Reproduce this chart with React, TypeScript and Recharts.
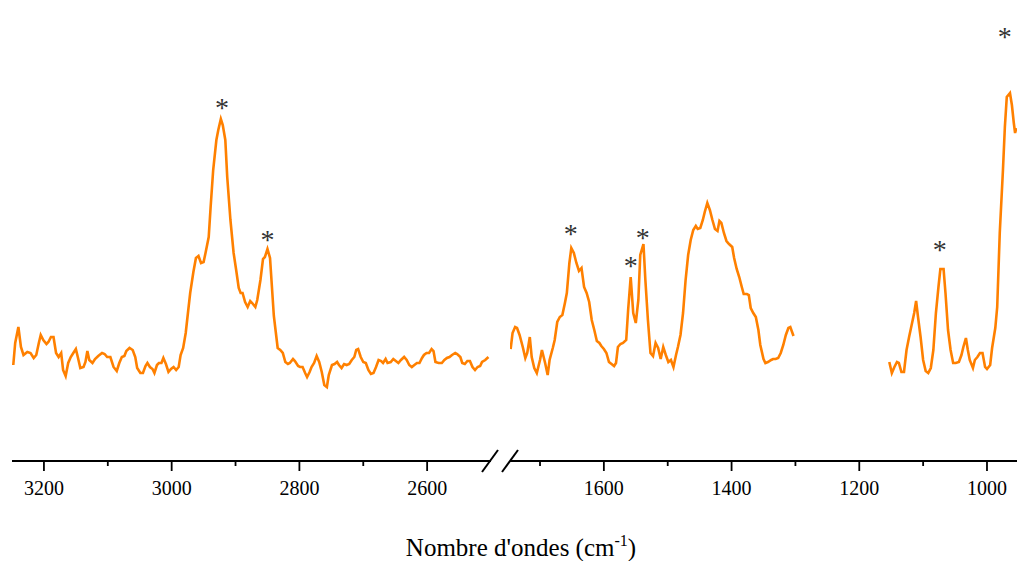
import { LineChart, Line, XAxis, YAxis, ReferenceDot } from "recharts";

// FTIR spectrum, broken wavenumber axis (cm-1), arbitrary absorbance
const highRange: [number, number][] = [
  [3248, 0.96], [3245, 1.18], [3240, 1.34], [3236, 1.14], [3232, 1.06], [3226, 1.09],
  [3221, 1.08], [3216, 1.03], [3212, 1.06], [3208, 1.18], [3205, 1.26], [3201, 1.21],
  [3196, 1.17], [3193, 1.19], [3189, 1.24], [3185, 1.24], [3181, 1.08], [3177, 1.04],
  [3173, 1.08], [3170, 0.91], [3166, 0.85], [3162, 0.98], [3158, 1.04], [3154, 1.08],
  [3150, 1.12], [3147, 1.04], [3143, 0.93], [3138, 0.94], [3135, 0.99], [3132, 1.1],
  [3129, 1.01], [3124, 0.98], [3120, 1.02], [3115, 1.05], [3109, 1.08], [3105, 1.07],
  [3101, 1.04], [3096, 1.04], [3091, 0.94], [3086, 0.9], [3082, 0.98], [3078, 1.04],
  [3074, 1.05], [3071, 1.1], [3066, 1.13], [3061, 1.11], [3057, 1.04], [3054, 0.93],
  [3049, 0.88], [3045, 0.88], [3041, 0.95], [3038, 0.98], [3034, 0.94], [3030, 0.92],
  [3027, 0.88], [3023, 0.96], [3020, 0.98], [3016, 0.98], [3013, 1.03], [3009, 0.97],
  [3005, 0.89], [3001, 0.92], [2997, 0.94], [2993, 0.91], [2989, 0.94], [2986, 1.06],
  [2982, 1.13], [2978, 1.28], [2974, 1.51], [2971, 1.68], [2966, 1.89], [2962, 2.03],
  [2958, 2.05], [2954, 1.98], [2950, 1.99], [2947, 2.08], [2942, 2.24], [2939, 2.54],
  [2935, 2.91], [2930, 3.21], [2927, 3.31], [2923, 3.42], [2920, 3.36], [2916, 3.21],
  [2913, 2.84], [2908, 2.41], [2903, 2.08], [2899, 1.91], [2895, 1.73], [2892, 1.68],
  [2889, 1.68], [2885, 1.59], [2881, 1.54], [2877, 1.6], [2874, 1.58], [2869, 1.54],
  [2866, 1.61], [2861, 1.81], [2857, 2.02], [2854, 2.04], [2850, 2.12], [2846, 2.03],
  [2843, 1.74], [2840, 1.45], [2837, 1.29], [2834, 1.13], [2830, 1.11], [2826, 1.08],
  [2822, 0.99], [2818, 0.97], [2815, 0.98], [2810, 1.02], [2807, 1.0], [2802, 0.95],
  [2799, 0.94], [2795, 0.94], [2791, 0.88], [2788, 0.84], [2784, 0.89], [2781, 0.94],
  [2777, 0.98], [2773, 1.05], [2769, 0.99], [2765, 0.89], [2761, 0.76], [2757, 0.74],
  [2754, 0.86], [2749, 0.96], [2745, 0.97], [2741, 0.99], [2738, 0.96], [2734, 0.93],
  [2730, 0.97], [2726, 0.96], [2722, 0.97], [2718, 1.01], [2714, 1.04], [2711, 1.11],
  [2708, 1.12], [2704, 1.04], [2700, 0.99], [2696, 0.98], [2692, 0.91], [2688, 0.87],
  [2684, 0.88], [2680, 0.94], [2676, 1.01], [2672, 1.0], [2669, 0.98], [2665, 1.02],
  [2662, 0.98], [2657, 0.99], [2653, 1.02], [2649, 1.0], [2645, 0.98], [2641, 1.01],
  [2636, 1.04], [2632, 1.01], [2628, 0.96], [2624, 0.94], [2620, 0.96], [2616, 0.98],
  [2612, 0.98], [2608, 1.03], [2605, 1.06], [2601, 1.08], [2597, 1.08], [2593, 1.12],
  [2590, 1.1], [2587, 0.99], [2582, 0.98], [2577, 0.98], [2573, 1.01], [2569, 1.03],
  [2565, 1.04], [2561, 1.06], [2556, 1.08], [2553, 1.07], [2548, 1.04], [2545, 0.98],
  [2541, 0.97], [2537, 1.0], [2533, 1.0], [2529, 0.94], [2525, 0.91], [2521, 0.94],
  [2517, 0.95], [2514, 0.99], [2509, 1.01], [2504, 1.04],
];

const lowRange: [number, number | null][] = [
  [1746, 1.12], [1743, 1.28], [1739, 1.34], [1736, 1.33], [1732, 1.26], [1727, 1.14],
  [1723, 1.03], [1720, 1.08], [1716, 1.24], [1713, 1.04], [1709, 0.93], [1705, 0.88],
  [1700, 1.01], [1697, 1.11], [1692, 0.98], [1688, 0.86], [1685, 1.01], [1680, 1.13],
  [1677, 1.21], [1673, 1.39], [1669, 1.44], [1665, 1.46], [1661, 1.58], [1658, 1.68],
  [1654, 1.98], [1651, 2.13], [1647, 2.08], [1643, 1.98], [1639, 1.9], [1635, 1.93],
  [1631, 1.74], [1627, 1.68], [1623, 1.59], [1619, 1.41], [1615, 1.31], [1611, 1.2],
  [1607, 1.18], [1604, 1.15], [1600, 1.12], [1596, 1.08], [1592, 0.99], [1588, 0.97],
  [1584, 0.95], [1581, 0.98], [1578, 1.14], [1574, 1.17], [1570, 1.18], [1565, 1.21],
  [1562, 1.51], [1558, 1.84], [1554, 1.48], [1550, 1.38], [1546, 1.61], [1543, 2.06],
  [1538, 2.17], [1535, 1.81], [1531, 1.41], [1527, 1.08], [1523, 1.05], [1519, 1.18],
  [1515, 1.13], [1511, 1.02], [1507, 1.14], [1503, 1.06], [1499, 0.99], [1495, 1.01],
  [1491, 0.94], [1487, 1.06], [1484, 1.14], [1480, 1.26], [1476, 1.48], [1472, 1.81],
  [1468, 2.06], [1464, 2.21], [1460, 2.31], [1456, 2.35], [1453, 2.32], [1449, 2.33],
  [1445, 2.41], [1442, 2.49], [1438, 2.58], [1434, 2.51], [1430, 2.41], [1426, 2.32],
  [1422, 2.3], [1419, 2.4], [1416, 2.38], [1412, 2.28], [1408, 2.2], [1404, 2.17],
  [1399, 2.14], [1396, 2.03], [1392, 1.92], [1388, 1.84], [1384, 1.74], [1381, 1.67],
  [1376, 1.67], [1373, 1.66], [1370, 1.53], [1366, 1.48], [1362, 1.44], [1358, 1.31],
  [1355, 1.16], [1350, 1.02], [1347, 0.98], [1343, 0.99], [1338, 1.01], [1335, 1.02],
  [1331, 1.02], [1327, 1.03], [1323, 1.08], [1319, 1.16], [1315, 1.26], [1311, 1.33],
  [1308, 1.34], [1303, 1.25],
  [1230, null],
  [1153, 0.99], [1149, 0.88], [1145, 0.94], [1141, 0.99], [1138, 0.98], [1134, 0.89],
  [1130, 0.89], [1126, 1.11], [1122, 1.24], [1118, 1.36], [1114, 1.48], [1111, 1.6],
  [1108, 1.44], [1104, 1.24], [1100, 1.01], [1096, 0.9], [1092, 0.88], [1088, 0.93],
  [1084, 1.11], [1080, 1.48], [1076, 1.74], [1073, 1.92], [1068, 1.92], [1065, 1.68],
  [1061, 1.31], [1057, 1.11], [1053, 0.98], [1049, 0.98], [1044, 0.99], [1040, 1.06],
  [1037, 1.14], [1033, 1.23], [1030, 1.11], [1027, 1.01], [1022, 0.93], [1019, 1.01],
  [1015, 1.04], [1011, 1.08], [1007, 1.08], [1003, 0.94], [1000, 0.92], [995, 0.96],
  [992, 1.13], [987, 1.33], [984, 1.54], [980, 2.28], [975, 2.91], [972, 3.34],
  [969, 3.64], [964, 3.68], [961, 3.56], [958, 3.38], [956, 3.28], [954, 3.33],
];

// peaks marked with an asterisk (wavenumber, height of the mark)
const highStars = [
  { wn: 2921, y: 3.58 },
  { wn: 2850, y: 2.26 },
];
const lowStars = [
  { wn: 1652, y: 2.32 },
  { wn: 1558, y: 2.0 },
  { wn: 1539, y: 2.28 },
  { wn: 1074, y: 2.16 },
  { wn: 972, y: 4.29 },
];

const highTicks = [3200, 3100, 3000, 2900, 2800, 2700, 2600];
const lowTicks = [1700, 1600, 1500, 1400, 1300, 1200, 1100, 1000];
const labelledTicks = [3200, 3000, 2800, 2600, 1600, 1400, 1200, 1000];

const highData = highRange.map(([wn, a]) => ({ wn, a }));
const lowData = lowRange.map(([wn, a]) => ({ wn, a }));

const FONT = "'Liberation Serif', 'Times New Roman', serif";
const ORANGE = "#FF8000";

function AxisTick(props: any) {
  const { x, y, payload } = props;
  const major = labelledTicks.includes(payload.value);
  return (
    <g>
      <line x1={x} x2={x} y1={y} y2={y + (major ? 10 : 5)} stroke="#000" strokeWidth={1.8} />
      {major && (
        <text x={x} y={y + 34} textAnchor="middle" fontFamily={FONT} fontSize={20} fill="#000">
          {payload.value}
        </text>
      )}
    </g>
  );
}

function Star(props: any) {
  const { cx, cy } = props;
  return (
    <text x={cx} y={cy + 14} textAnchor="middle" fontFamily={FONT} fontSize={28} fill="#333">
      *
    </text>
  );
}

function Segment({
  data,
  stars,
  ticks,
  domain,
  width,
  left,
}: {
  data: { wn: number; a: number | null }[];
  stars: { wn: number; y: number }[];
  ticks: number[];
  domain: [number, number];
  width: number;
  left: number;
}) {
  return (
    <LineChart width={width} height={561} data={data} margin={{ top: 0, right: 0, bottom: 0, left }}>
      <XAxis
        dataKey="wn"
        type="number"
        domain={domain}
        allowDataOverflow
        reversed
        ticks={ticks}
        interval={0}
        height={100}
        tickSize={0}
        tickMargin={0}
        tickLine={false}
        tick={<AxisTick />}
        axisLine={{ stroke: "#000", strokeWidth: 2 }}
      />
      <YAxis hide domain={[0, 4.61]} allowDataOverflow />
      <Line
        dataKey="a"
        type="linear"
        stroke={ORANGE}
        strokeWidth={2.6}
        dot={false}
        isAnimationActive={false}
      />
      {stars.map((s) => (
        <ReferenceDot key={s.wn} x={s.wn} y={s.y} r={2} ifOverflow="visible" shape={(p: any) => <Star {...p} />} />
      ))}
    </LineChart>
  );
}

export default function App() {
  return (
    <div
      style={{
        position: "absolute",
        left: 0,
        top: 0,
        width: 1017,
        height: 561,
        background: "#fff",
        overflow: "hidden",
      }}
    >
      <div style={{ position: "absolute", left: 0, top: 0 }}>
        <Segment data={highData} stars={highStars} ticks={highTicks} domain={[2500, 3250]} width={491} left={12} />
      </div>
      <div style={{ position: "absolute", left: 510, top: 0 }}>
        <Segment data={lowData} stars={lowStars} ticks={lowTicks} domain={[953, 1747]} width={507} left={0} />
      </div>
      <svg width={1017} height={561} style={{ position: "absolute", left: 0, top: 0, pointerEvents: "none" }}>
        {/* axis break marks */}
        <line x1={482} y1={472} x2={498} y2={450} stroke="#000" strokeWidth={2} />
        <line x1={502} y1={472} x2={518} y2={450} stroke="#000" strokeWidth={2} />
        <text x={521} y={556} textAnchor="middle" fontFamily={FONT} fontSize={25} fill="#000">
          Nombre d'ondes (cm
          <tspan dy={-10} fontSize={16}>-1</tspan>
          <tspan dy={10}>)</tspan>
        </text>
      </svg>
    </div>
  );
}
